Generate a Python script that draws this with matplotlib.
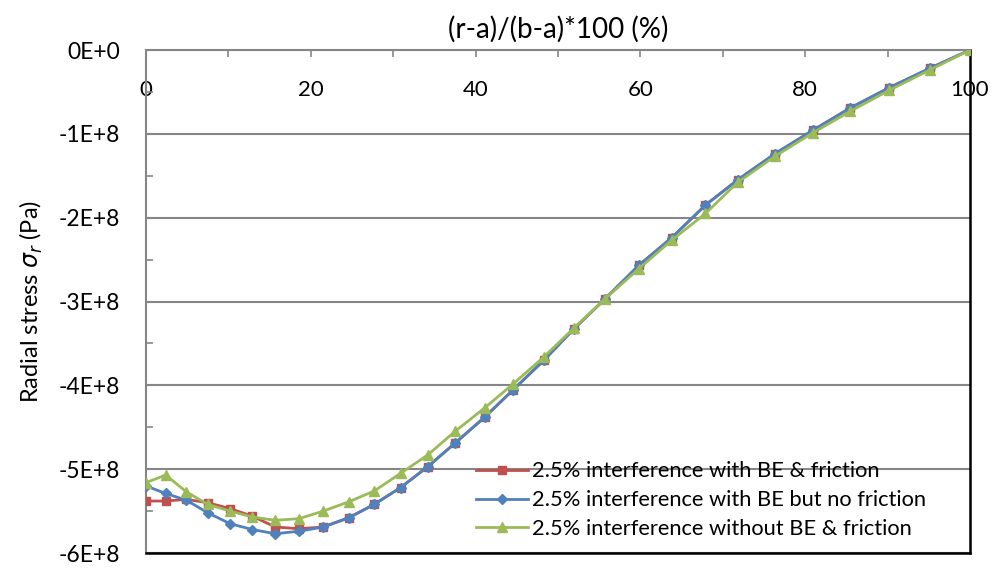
import matplotlib
matplotlib.use("Agg")
import matplotlib.pyplot as plt
from matplotlib.ticker import MultipleLocator, FuncFormatter

plt.rcParams['font.family'] = ['Lato', 'DejaVu Sans']
plt.rcParams['mathtext.fontset'] = 'dejavusans'

# Normalised radial position (%)
position = [0, 2.4, 4.9, 7.5, 10.2, 12.9, 15.7, 18.6, 21.5, 24.6, 27.7, 30.9,
            34.2, 37.5, 41.1, 44.6, 48.3, 51.9, 55.7, 59.8, 63.8, 67.9, 71.8,
            76.3, 80.9, 85.5, 90.2, 95.1, 100]

# Radial stress (Pa)
stress_be_friction = [-5.38e8, -5.38e8, -5.36e8, -5.40e8, -5.47e8, -5.56e8, -5.69e8,
                      -5.71e8, -5.69e8, -5.58e8, -5.42e8, -5.22e8, -4.97e8, -4.69e8,
                      -4.38e8, -4.05e8, -3.70e8, -3.33e8, -2.97e8, -2.57e8, -2.24e8,
                      -1.85e8, -1.55e8, -1.24e8, -0.96e8, -0.69e8, -0.45e8, -0.22e8, 0]
stress_be_no_friction = [-5.20e8, -5.29e8, -5.37e8, -5.52e8, -5.65e8, -5.72e8, -5.77e8,
                         -5.74e8, -5.69e8, -5.58e8, -5.42e8, -5.22e8, -4.97e8, -4.69e8,
                         -4.38e8, -4.05e8, -3.70e8, -3.33e8, -2.97e8, -2.57e8, -2.24e8,
                         -1.85e8, -1.55e8, -1.24e8, -0.96e8, -0.69e8, -0.45e8, -0.22e8, 0]
stress_no_be = [-5.16e8, -5.07e8, -5.27e8, -5.42e8, -5.50e8, -5.57e8, -5.61e8,
                -5.59e8, -5.50e8, -5.39e8, -5.26e8, -5.05e8, -4.83e8, -4.55e8,
                -4.27e8, -3.98e8, -3.66e8, -3.32e8, -2.97e8, -2.61e8, -2.27e8,
                -1.95e8, -1.58e8, -1.27e8, -0.99e8, -0.73e8, -0.48e8, -0.24e8, 0]

labels = ["2.5% interference with BE & friction",
          "2.5% interference with BE but no friction",
          "2.5% interference without BE & friction"]
colors = ["#C0504D", "#4F81BD", "#9BBB59"]

fig = plt.figure(figsize=(9.95, 5.69), dpi=100)
ax = fig.add_axes([0.1467, 0.0281, 0.8281, 0.884])

ax.plot(position, stress_be_friction, color=colors[0], lw=2, marker='s', ms=6.3,
        label=labels[0], zorder=3)
ax.plot(position, stress_be_no_friction, color=colors[1], lw=2, marker='D', ms=5,
        label=labels[1], zorder=4)
ax.plot(position, stress_no_be, color=colors[2], lw=2, marker='^', ms=7.5,
        label=labels[2], zorder=5)

ax.set_xlim(0, 100)
ax.set_ylim(-6e8, 0)

grey = "#868686"
ax.yaxis.set_major_locator(MultipleLocator(1e8))
ax.yaxis.set_minor_locator(MultipleLocator(0.5e8))
ax.yaxis.set_major_formatter(FuncFormatter(
    lambda v, p: "0E+0" if abs(v) < 1 else f"{int(round(v / 1e8))}E+8"))
ax.grid(axis='y', which='major', color=grey, lw=1.5)
ax.set_axisbelow(True)

# x axis runs along the top edge, with its labels sitting just inside the plot
ax.xaxis.set_major_locator(MultipleLocator(20))
ax.xaxis.set_minor_locator(MultipleLocator(10))
ax.xaxis.tick_top()
ax.xaxis.set_label_position('top')
ax.tick_params(axis='x', which='both', direction='in', length=5, width=1.2,
               color=grey, labelsize=16, pad=-36)
ax.tick_params(axis='y', which='both', direction='in', length=5, width=1.2,
               color=grey, labelsize=16.5, pad=18.5)

for side in ('left', 'top'):
    ax.spines[side].set_color(grey)
    ax.spines[side].set_linewidth(1.5)
for side in ('right', 'bottom'):
    ax.spines[side].set_color('black')
    ax.spines[side].set_linewidth(1.8)

ax.set_xlabel("(r-a)/(b-a)*100 (%)", fontsize=20, labelpad=9)
ax.set_ylabel(r"Radial stress $\sigma_r$ (Pa)", fontsize=17, labelpad=10)

ax.legend(loc='upper left', bbox_to_anchor=(0.4784, 0.189), bbox_transform=fig.transFigure,
          frameon=False, fontsize=15.75, handlelength=2.38, handletextpad=0.2,
          labelspacing=0.40, borderaxespad=0, borderpad=0)

fig.savefig("out.png", dpi=100)
